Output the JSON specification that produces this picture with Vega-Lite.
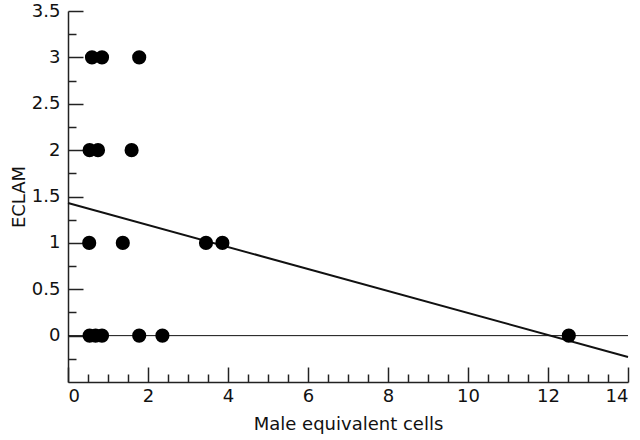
{
  "$schema": "https://vega.github.io/schema/vega-lite/v6.json",
  "width": 560,
  "height": 371,
  "autosize": "none",
  "padding": {"left": 68, "top": 11, "right": 12, "bottom": 58},
  "background": "white",
  "config": {
    "view": {"stroke": null},
    "font": "DejaVu Sans",
    "axis": {
      "grid": false,
      "domainColor": "#222",
      "domainWidth": 1.5,
      "tickColor": "#222",
      "tickWidth": 1.5,
      "labelColor": "#111",
      "labelFontSize": 18,
      "titleFontSize": 18,
      "titleFontWeight": "normal",
      "titleColor": "#111"
    }
  },
  "resolve": {"axis": {"x": "independent", "y": "independent"}},
  "layer": [
    {
      "data": {"values": [{"x": 0, "y": 0, "x2": 14, "y2": 0}]},
      "mark": {"type": "rule", "color": "#111", "strokeWidth": 1},
      "encoding": {
        "x": {
          "field": "x", "type": "quantitative",
          "scale": {"domain": [0, 14], "nice": false, "zero": false},
          "axis": {
            "orient": "bottom",
            "title": "Male equivalent cells",
            "values": [0, 2, 4, 6, 8, 10, 12, 14],
            "tickSize": -15,
            "labelPadding": 20,
            "titlePadding": 10
          }
        },
        "y": {
          "field": "y", "type": "quantitative",
          "scale": {"domain": [-0.5, 3.5], "nice": false, "zero": false},
          "axis": {
            "orient": "left",
            "title": "ECLAM",
            "values": [0, 0.5, 1, 1.5, 2, 2.5, 3, 3.5],
            "labelExpr": "'' + datum.value",
            "tickSize": -15,
            "labelPadding": 23,
            "titlePadding": 3
          }
        },
        "x2": {"field": "x2"},
        "y2": {"field": "y2"}
      }
    },
    {
      "data": {"values": [{"x": 0, "y": 1.43, "x2": 14, "y2": -0.23}]},
      "mark": {"type": "rule", "color": "#111", "strokeWidth": 2},
      "encoding": {
        "x": {
          "field": "x", "type": "quantitative",
          "axis": {
            "orient": "bottom",
            "title": null,
            "domain": false,
            "labels": false,
            "values": [0.5, 1, 1.5, 2.5, 3, 3.5, 4.5, 5, 5.5, 6.5, 7, 7.5, 8.5, 9, 9.5, 10.5, 11, 11.5, 12.5, 13, 13.5],
            "tickSize": -8
          }
        },
        "y": {
          "field": "y", "type": "quantitative",
          "axis": {
            "orient": "left",
            "title": null,
            "domain": false,
            "labels": false,
            "values": [-0.25, 0.25, 0.75, 1.25, 1.75, 2.25, 2.75, 3.25],
            "tickSize": -8
          }
        },
        "x2": {"field": "x2"},
        "y2": {"field": "y2"}
      }
    },
    {
      "data": {"values": [
        {"x": 0.6, "y": 3}, {"x": 0.85, "y": 3}, {"x": 1.78, "y": 3},
        {"x": 0.54, "y": 2}, {"x": 0.75, "y": 2}, {"x": 1.59, "y": 2},
        {"x": 0.53, "y": 1}, {"x": 1.37, "y": 1}, {"x": 3.45, "y": 1}, {"x": 3.86, "y": 1},
        {"x": 0.54, "y": 0}, {"x": 0.69, "y": 0}, {"x": 0.85, "y": 0}, {"x": 1.78, "y": 0}, {"x": 2.36, "y": 0}, {"x": 12.52, "y": 0}
      ]},
      "mark": {"type": "circle", "size": 200, "color": "#000", "opacity": 1},
      "encoding": {
        "x": {"field": "x", "type": "quantitative", "axis": null},
        "y": {"field": "y", "type": "quantitative", "axis": null}
      }
    }
  ]
}
